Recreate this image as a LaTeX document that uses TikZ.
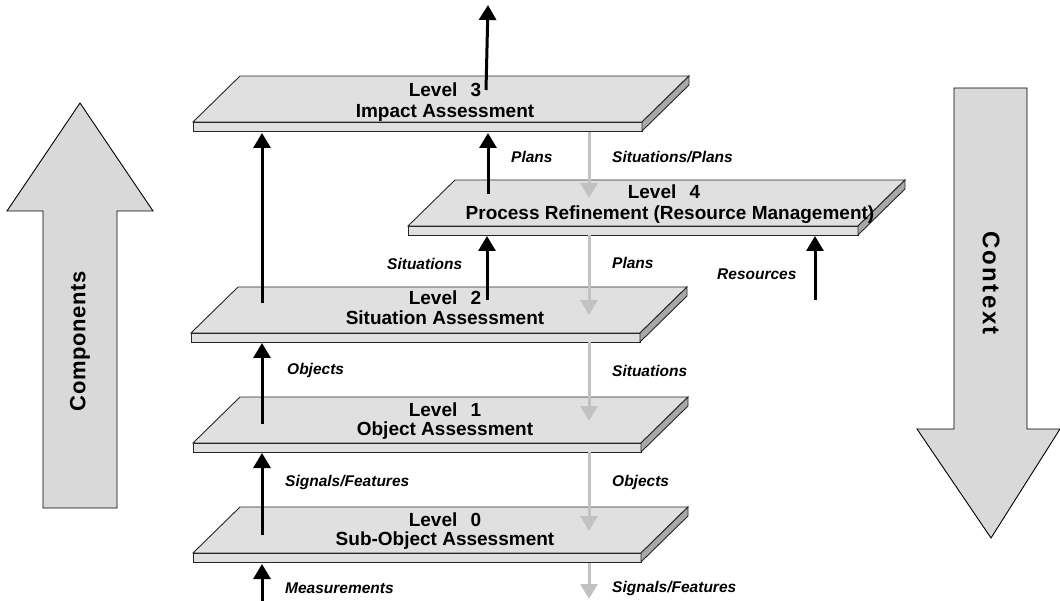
\documentclass[tikz,border=0pt]{standalone}
\usepackage{fontspec}
\setmainfont{Liberation Sans}
\newfontfamily\widesansa[LetterSpace=3]{Liberation Sans}
\newfontfamily\widesansb[LetterSpace=10]{Liberation Sans}
\usetikzlibrary{arrows.meta}

\definecolor{slabtop}{gray}{0.88}
\definecolor{slabside}{gray}{0.66}
\definecolor{bigfill}{gray}{0.85}
\definecolor{flowgray}{gray}{0.76}

\tikzset{
  slabline/.style={draw=black!85, line width=0.9pt, line join=miter},
  upflow/.style={line width=3pt, black, -{Triangle[width=17pt,length=15pt]}},
  downflow/.style={line width=3pt, flowgray, -{Triangle[width=17pt,length=15pt]}},
  lbl/.style={font=\fontsize{15.5}{18}\selectfont\bfseries\itshape, anchor=west, inner sep=0pt},
  lvl/.style={font=\fontsize{19}{22}\selectfont\bfseries, anchor=base, inner sep=0pt},
  bigarrow/.style={fill=bigfill, draw=black, line width=0.9pt, line join=miter},
}

% one slab: #1 front-left x, #2 top y, #3 front-right x
\newcommand\drawslab[3]{%
  \filldraw[slabline, fill=slabtop]
    ({#1+47},#2) -- ({#3+47},#2) -- (#3,{#2+46}) -- (#1,{#2+46}) -- cycle;
  \filldraw[slabline, fill=slabtop]
    (#1,{#2+46}) rectangle (#3,{#2+55});
  \filldraw[slabline, fill=slabside]
    (#3,{#2+46}) -- ({#3+47},#2) -- ({#3+47},{#2+9}) -- (#3,{#2+55}) -- cycle;
}

\begin{document}
\begin{tikzpicture}[x=1pt,y=-1pt]
\useasboundingbox (0,0) rectangle (1060,601);

% side arrows
\filldraw[bigarrow] (43,508) -- (43,211) -- (7,211) -- (80,103) -- (153,211)
  -- (117,211) -- (117,508) -- cycle;
\node (comp) [rotate=90, font=\fontsize{22}{25}\selectfont\bfseries\widesansa]
  at (80,341) {Components};
\filldraw[bigarrow] (954,88) -- (1027,88) -- (1027,429) -- (1060,429) -- (991,538)
  -- (917,429) -- (954,429) -- cycle;
\node (ctx) [rotate=-90, font=\fontsize{24}{27}\selectfont\bfseries\widesansb]
  at (991,283) {Context};

% slabs
\drawslab{193}{76}{642}
\drawslab{408}{180}{858}
\drawslab{191}{287}{640}
\drawslab{193}{397}{641}
\drawslab{193}{507}{641}

\node[lvl] (l3a) at (445,97)  {Level\hspace{0.7em}3};
\node[lvl] (l3b) at (445,118) {Impact Assessment};
\node[lvl] (l4a) at (664,199) {Level\hspace{0.7em}4};
\node[lvl] (l4b) at (670,220) {Process Refinement (Resource Management)};
\node[lvl] (l2a) at (445,305) {Level\hspace{0.7em}2};
\node[lvl] (l2b) at (445,325) {Situation Assessment};
\node[lvl] (l1a) at (445,416) {Level\hspace{0.7em}1};
\node[lvl] (l1b) at (445,435) {Object Assessment};
\node[lvl] (l0a) at (445,526) {Level\hspace{0.7em}0};
\node[lvl] (l0b) at (445,545) {Sub-Object Assessment};

% end points of the flows
\coordinate (outS) at (486,90);   \coordinate (outT) at (488,5);
\coordinate (s23) at (262,303);   \coordinate (t23) at (262,133);
\coordinate (s12) at (262,424);   \coordinate (t12) at (262,343);
\coordinate (s01) at (262,535);   \coordinate (t01) at (262,453);
\coordinate (sM)  at (262,601);   \coordinate (tM)  at (262,564);
\coordinate (s43) at (488,194);   \coordinate (t43) at (488,133);
\coordinate (s24) at (487,300);   \coordinate (t24) at (487,236);
\coordinate (sR)  at (815,300);   \coordinate (tR)  at (815,236);
\coordinate (g3)  at (589,132);   \coordinate (g4)  at (589,198);
\coordinate (g4b) at (589,235);   \coordinate (g2)  at (589,315);
\coordinate (g2b) at (589,342);   \coordinate (g1)  at (589,421);
\coordinate (g1b) at (589,452);   \coordinate (g0)  at (589,531);
\coordinate (g0b) at (589,563);   \coordinate (gE)  at (589,599);

% upward (black) flows
\draw[upflow] (outS) -- (outT);
\draw[upflow] (s23) -- (t23);
\draw[upflow] (s12) -- (t12);
\draw[upflow] (s01) -- (t01);
\draw[upflow] (sM) -- (tM);
\draw[upflow] (s43) -- (t43);
\draw[upflow] (s24) -- (t24);
\draw[upflow] (sR) -- (tR);

% downward (grey) flows
\draw[downflow] (g3) -- (g4);
\draw[downflow] (g4b) -- (g2);
\draw[downflow] (g2b) -- (g1);
\draw[downflow] (g1b) -- (g0);
\draw[downflow] (g0b) -- (gE);

% flow labels
\node[lbl] (nPlansUp)  at (511,157) {Plans};
\node[lbl] (nSitPl)    at (612,157) {Situations/Plans};
\node[lbl] (nSitUp)    at (387,264) {Situations};
\node[lbl] (nPlansDn)  at (612,263) {Plans};
\node[lbl] (nRes)      at (717,274) {Resources};
\node[lbl] (nObjUp)    at (287,370) {Objects};
\node[lbl] (nSitDn)    at (612,371) {Situations};
\node[lbl] (nSigUp)    at (285,482) {Signals/Features};
\node[lbl] (nObjDn)    at (612,482) {Objects};
\node[lbl] (nMeas)     at (285,588) {Measurements};
\node[lbl] (nSigDn)    at (612,588) {Signals/Features};
\end{tikzpicture}
\end{document}
